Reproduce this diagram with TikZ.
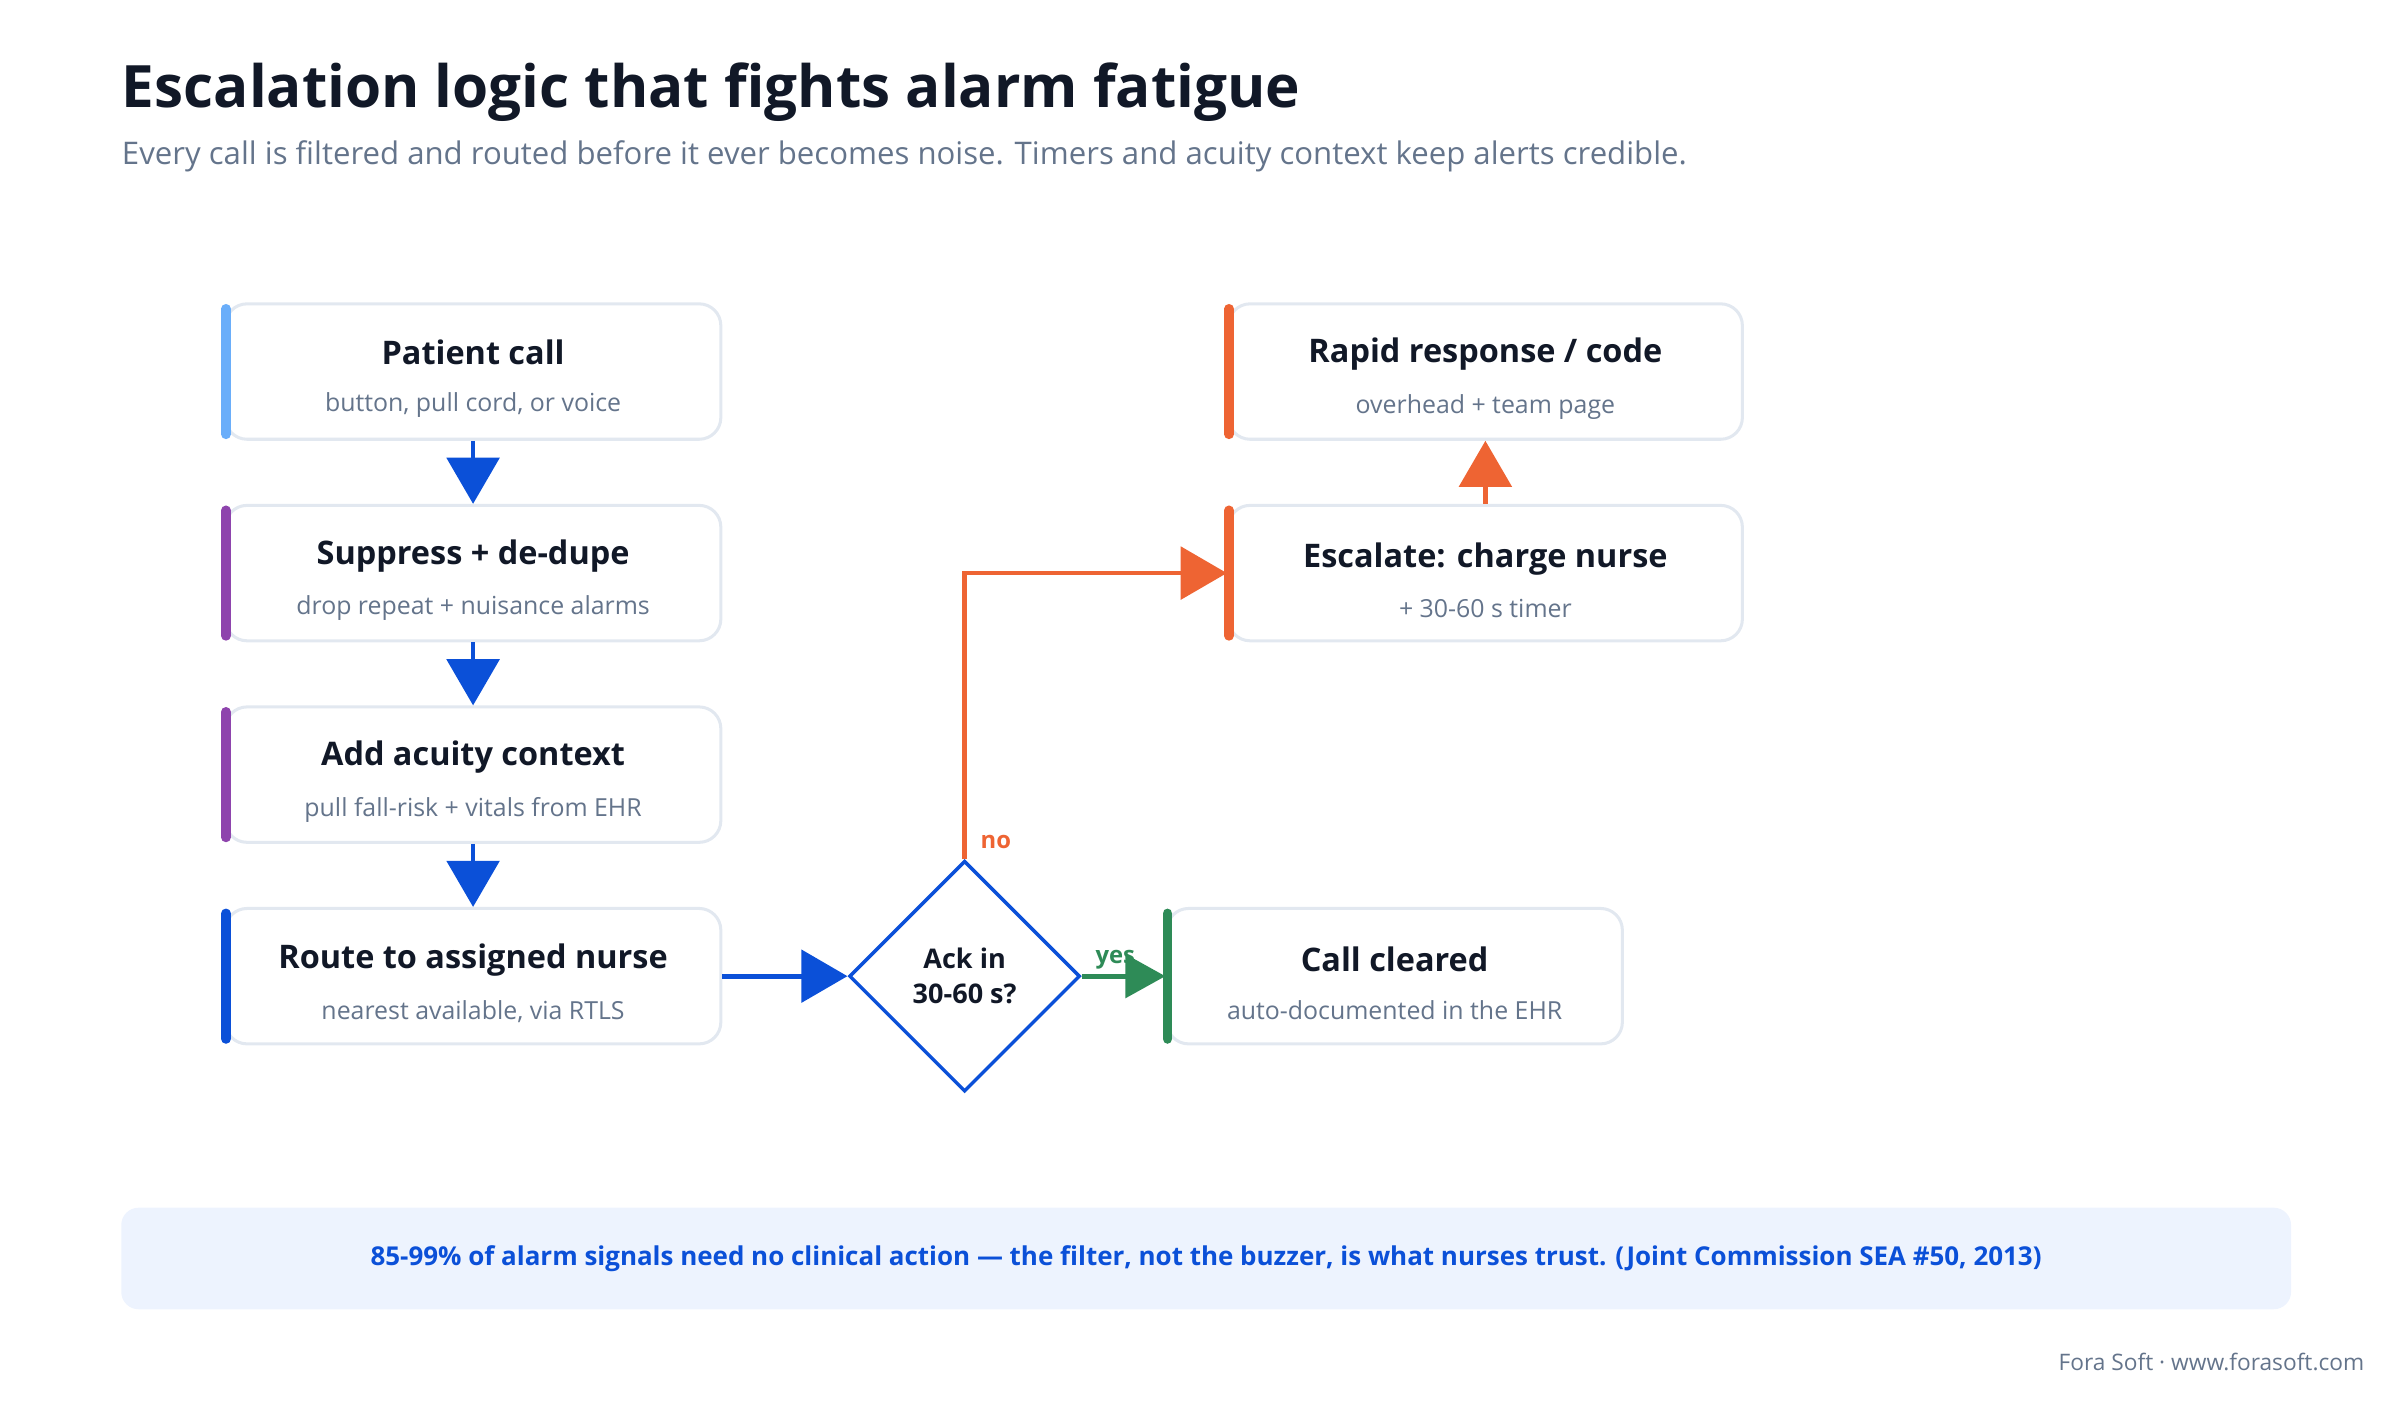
\documentclass[tikz,border=0pt]{standalone}
\usepackage{fontspec}
\setmainfont{Open Sans}
\usetikzlibrary{positioning,shapes.geometric,arrows.meta}
\definecolor{ink}{HTML}{111827}
\definecolor{muted}{HTML}{64748B}
\definecolor{edge}{HTML}{E2E8F0}
\definecolor{flow}{HTML}{0B50D8}
\definecolor{alert}{HTML}{EE6433}
\definecolor{okay}{HTML}{2E8B57}
\definecolor{calm}{HTML}{6AAEFA}
\definecolor{filt}{HTML}{8E44AD}
\definecolor{note}{HTML}{EDF3FE}
\tikzset{
  stage/.style={draw=edge, line width=1.4pt, rounded corners=10pt, fill=white,
    minimum width=8.05cm, minimum height=2.2cm, align=center, inner sep=0pt},
  bar/.style={line width=4.5pt, line cap=round},
  link/.style={line width=2.2pt, -{Triangle[width=0.85cm,length=0.75cm]}},
}
\newcommand{\stagetext}[2]{{\fontsize{15}{18}\selectfont\bfseries\color{ink}\rule{0pt}{18pt}#1}\\[10pt]{\fontsize{11.5}{14}\selectfont\color{muted}#2}}
\begin{document}
\begin{tikzpicture}[x=0.025cm, y=-0.025cm]
  \useasboundingbox (0,0) rectangle (1560,910);

  \node[anchor=base west, inner sep=0pt, text=ink] (title) at (79,70)
    {\fontsize{27}{32}\selectfont\bfseries Escalation logic that fights alarm fatigue};
  \node[anchor=base west, inner sep=0pt, text=muted] (sub) at (79,107)
    {\fontsize{14.4}{17}\selectfont Every call is filtered and routed before it ever becomes noise. Timers and acuity context keep alerts credible.};

  \node[stage] (call) at (307.5,241.5) {\stagetext{Patient call}{button, pull cord, or voice}};
  \node[stage] (supp) at (307.5,372.5) {\stagetext{Suppress + de-dupe}{drop repeat + nuisance alarms}};
  \node[stage] (acuity) at (307.5,503.5) {\stagetext{Add acuity context}{pull fall-risk + vitals from EHR}};
  \node[stage] (route) at (307.5,634.5) {\stagetext{Route to assigned nurse}{nearest available, via RTLS}};

  \node[draw=flow, line width=1.6pt, diamond, minimum width=3.75cm, minimum height=3.75cm,
    inner sep=0pt, align=center, text=ink, font=\fontsize{12.5}{16}\selectfont\bfseries] (ack) at (627,634.5) {Ack in\\30-60 s?};

  \node[stage, minimum width=7.4cm] (clear) at (906.5,634.5) {\stagetext{Call cleared}{auto-documented in the EHR}};
  \node[stage, minimum width=8.35cm] (esc) at (965.5,372.5) {\stagetext{Escalate: charge nurse}{+ 30-60 s timer}};
  \node[stage, minimum width=8.35cm] (rapid) at (965.5,241.5) {\stagetext{Rapid response / code}{overhead + team page}};

  % accent bars
  \draw[bar, calm] ([xshift=1pt,yshift=-3pt]call.north west) -- ([xshift=1pt,yshift=3pt]call.south west);
  \draw[bar, filt] ([xshift=1pt,yshift=-3pt]supp.north west) -- ([xshift=1pt,yshift=3pt]supp.south west);
  \draw[bar, filt] ([xshift=1pt,yshift=-3pt]acuity.north west) -- ([xshift=1pt,yshift=3pt]acuity.south west);
  \draw[bar, flow] ([xshift=1pt,yshift=-3pt]route.north west) -- ([xshift=1pt,yshift=3pt]route.south west);
  \draw[bar, okay] ([xshift=1pt,yshift=-3pt]clear.north west) -- ([xshift=1pt,yshift=3pt]clear.south west);
  \draw[bar, alert] ([xshift=1pt,yshift=-3pt]esc.north west) -- ([xshift=1pt,yshift=3pt]esc.south west);
  \draw[bar, alert] ([xshift=1pt,yshift=-3pt]rapid.north west) -- ([xshift=1pt,yshift=3pt]rapid.south west);

  \draw[link, flow] (call) -- (supp);
  \draw[link, flow] (supp) -- (acuity);
  \draw[link, flow] (acuity) -- (route);
  \draw[link, flow] (route) -- (ack);
  \draw[link, okay, -{Triangle[width=0.7cm,length=0.65cm]}] (ack) -- (clear)
    node[pos=0.4, above=-1pt, font=\fontsize{11}{13}\selectfont\bfseries, text=okay] {yes};
  \draw[link, alert] (ack.north) |- (esc.west)
    node[pos=0.03, right=3pt, font=\fontsize{11}{13}\selectfont\bfseries, text=alert] {no};
  \draw[link, alert] (esc) -- (rapid);

  \node[fill=note, rounded corners=8pt, minimum width=35.25cm, minimum height=1.65cm,
    text=flow, font=\fontsize{12}{15}\selectfont\bfseries] (fact) at (784,818)
    {85-99\% of alarm signals need no clinical action — the filter, not the buzzer, is what nurses trust. (Joint Commission SEA \#50, 2013)};
  \node[anchor=base east, inner sep=0pt, text=muted, font=\fontsize{10.5}{12}\selectfont] (credit) at (1537,891)
    {Fora Soft · www.forasoft.com};
\end{tikzpicture}
\end{document}
